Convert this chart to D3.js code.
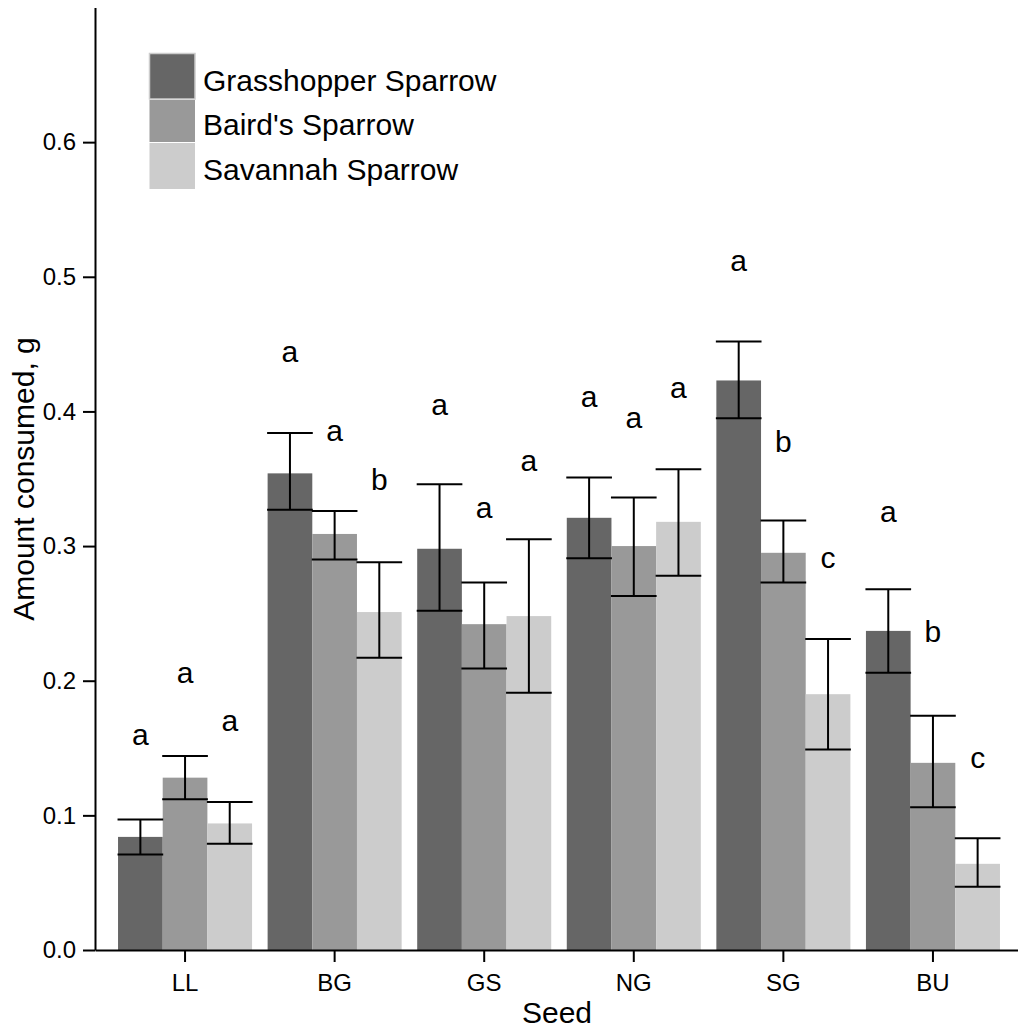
<!DOCTYPE html>
<html>
<head>
<meta charset="utf-8">
<script src="https://cdn.jsdelivr.net/npm/d3@7"></script>
<style>
  html, body { margin: 0; padding: 0; background: #fff; }
  svg { display: block; font-family: "Liberation Sans", Arial, Helvetica, sans-serif; }
</style>
</head>
<body>
<svg id="chart" width="1018" height="1030"></svg>
<script>
const categories = ["LL", "BG", "GS", "NG", "SG", "BU"];
const seriesNames = ["Grasshopper Sparrow", "Baird's Sparrow", "Savannah Sparrow"];
const seriesColors = ["#666666", "#999999", "#cccccc"];

const grasshopper   = [0.084, 0.354, 0.298, 0.321, 0.423, 0.237];
const grasshopperLo = [0.071, 0.327, 0.252, 0.291, 0.395, 0.206];
const grasshopperHi = [0.097, 0.384, 0.346, 0.351, 0.452, 0.268];

const bairds   = [0.128, 0.309, 0.242, 0.300, 0.295, 0.139];
const bairdsLo = [0.112, 0.290, 0.209, 0.263, 0.273, 0.106];
const bairdsHi = [0.144, 0.326, 0.273, 0.336, 0.319, 0.174];

const savannah   = [0.094, 0.251, 0.248, 0.318, 0.190, 0.064];
const savannahLo = [0.079, 0.217, 0.191, 0.278, 0.149, 0.047];
const savannahHi = [0.110, 0.288, 0.305, 0.357, 0.231, 0.083];

const grasshopperLetters = ["a", "a", "a", "a", "a", "a"];
const bairdsLetters      = ["a", "a", "a", "a", "b", "b"];
const savannahLetters    = ["a", "b", "a", "a", "c", "c"];
const grasshopperLetterY = [0.152, 0.437, 0.397, 0.403, 0.504, 0.318];
const bairdsLetterY      = [0.198, 0.378, 0.321, 0.388, 0.370, 0.229];
const savannahLetterY    = [0.163, 0.342, 0.356, 0.410, 0.284, 0.135];

const yTicks = [0.0, 0.1, 0.2, 0.3, 0.4, 0.5, 0.6];
const xTitle = "Seed";
const yTitle = "Amount consumed, g";

const series = [
  { name: seriesNames[0], values: grasshopper, lo: grasshopperLo, hi: grasshopperHi, letters: grasshopperLetters, letterY: grasshopperLetterY },
  { name: seriesNames[1], values: bairds, lo: bairdsLo, hi: bairdsHi, letters: bairdsLetters, letterY: bairdsLetterY },
  { name: seriesNames[2], values: savannah, lo: savannahLo, hi: savannahHi, letters: savannahLetters, letterY: savannahLetterY }
];

const svg = d3.select("#chart");
const FONT = 24, BIG = 30;

const x = d3.scaleBand().domain(categories).range([95, 1023]).paddingInner(0.104).paddingOuter(0.154);
const xs = d3.scaleBand().domain(seriesNames).range([0, x.bandwidth()]);
const y = d3.scaleLinear().domain([0, 0.7]).range([950, 7.5]);
const color = d3.scaleOrdinal().domain(seriesNames).range(seriesColors);

const rows = [];
series.forEach(s => categories.forEach((c, i) => rows.push({
  cat: c, name: s.name, v: s.values[i], lo: s.lo[i], hi: s.hi[i], letter: s.letters[i], ly: s.letterY[i]
})));

const g = svg.append("g");
g.selectAll("rect.bar").data(rows).enter().append("rect")
  .attr("class", "bar")
  .attr("x", d => x(d.cat) + xs(d.name))
  .attr("width", xs.bandwidth())
  .attr("y", d => y(d.v))
  .attr("height", d => y(0) - y(d.v))
  .attr("fill", d => color(d.name));

const eb = g.selectAll("g.err").data(rows).enter().append("g").attr("class", "err")
  .attr("stroke", "#000").attr("stroke-width", 2);
eb.append("line")
  .attr("x1", d => x(d.cat) + xs(d.name) + xs.bandwidth() / 2)
  .attr("x2", d => x(d.cat) + xs(d.name) + xs.bandwidth() / 2)
  .attr("y1", d => y(d.lo)).attr("y2", d => y(d.hi));
eb.append("line")
  .attr("x1", d => x(d.cat) + xs(d.name) - 0.5)
  .attr("x2", d => x(d.cat) + xs(d.name) + xs.bandwidth() + 0.5)
  .attr("y1", d => y(d.hi)).attr("y2", d => y(d.hi));
eb.append("line")
  .attr("x1", d => x(d.cat) + xs(d.name) - 0.5)
  .attr("x2", d => x(d.cat) + xs(d.name) + xs.bandwidth() + 0.5)
  .attr("y1", d => y(d.lo)).attr("y2", d => y(d.lo));

g.selectAll("text.letter").data(rows).enter().append("text")
  .attr("class", "letter")
  .attr("x", d => x(d.cat) + xs(d.name) + xs.bandwidth() / 2)
  .attr("y", d => y(d.ly))
  .attr("text-anchor", "middle")
  .attr("font-size", BIG)
  .attr("fill", "#000")
  .text(d => d.letter);

const yAxis = svg.append("g").attr("transform", "translate(95,0)")
  .call(d3.axisLeft(y).tickValues(yTicks).tickFormat(d3.format(".1f")).tickSize(12).tickSizeOuter(0).tickPadding(7));
const xAxis = svg.append("g").attr("transform", "translate(0,950)")
  .call(d3.axisBottom(x).tickSize(12).tickSizeOuter(0).tickPadding(12));
[yAxis, xAxis].forEach(a => {
  a.selectAll("path.domain").attr("stroke", "#000").attr("stroke-width", 2);
  a.selectAll(".tick line").attr("stroke", "#000").attr("stroke-width", 2);
  a.selectAll(".tick text").attr("font-size", FONT).attr("fill", "#000")
    .attr("font-family", "'Liberation Sans', Arial, sans-serif");
});

svg.append("text")
  .attr("x", 557).attr("y", 1023)
  .attr("text-anchor", "middle").attr("font-size", BIG).attr("fill", "#000")
  .text(xTitle);
svg.append("text")
  .attr("transform", "translate(34,479) rotate(-90)")
  .attr("text-anchor", "middle").attr("font-size", BIG).attr("fill", "#000")
  .text(yTitle);

const legendBoxes = [
  { y0: 53.5, y1: 99 },
  { y0: 100, y1: 142 },
  { y0: 143, y1: 189 }
];
const legendBaselines = [91, 135, 180];
const lg = svg.append("g");
seriesNames.forEach((n, i) => {
  const r = lg.append("rect")
    .attr("x", 149.5).attr("y", legendBoxes[i].y0)
    .attr("width", 45.5).attr("height", legendBoxes[i].y1 - legendBoxes[i].y0)
    .attr("fill", color(n));
  if (i === 0) r.attr("stroke", "#cccccc").attr("stroke-width", 1.5);
  lg.append("text")
    .attr("x", 203).attr("y", legendBaselines[i])
    .attr("font-size", BIG).attr("fill", "#000")
    .text(n);
});
</script>
</body>
</html>
